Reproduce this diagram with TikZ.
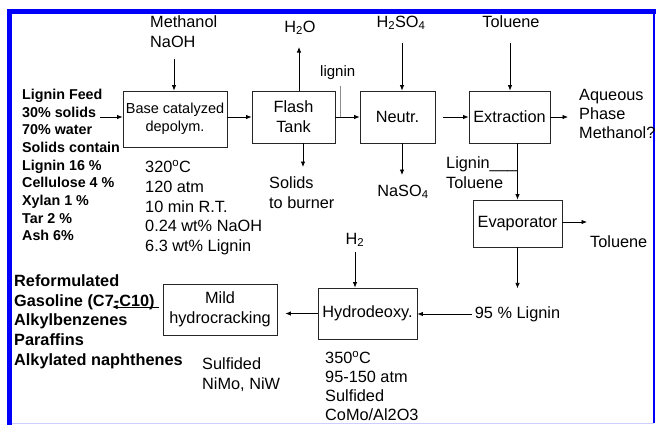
\documentclass[tikz,border=0pt]{standalone}
\usepackage{fontspec}
\setmainfont{Liberation Sans}
\usepackage{xcolor}
\usetikzlibrary{arrows.meta,calc,positioning}
\definecolor{frameblue}{RGB}{0,0,250}
\definecolor{framepale}{RGB}{205,205,255}
\newcommand\fsnorm{\fontsize{16.3bp}{19.7bp}\selectfont}
\newcommand\fsbox{\fontsize{14.5bp}{18bp}\selectfont}
\newcommand\fsfeed{\fontsize{14.3bp}{17.7bp}\selectfont\bfseries}
\newcommand\fsprod{\fontsize{16.3bp}{19.7bp}\selectfont\bfseries}
\newcommand\fstap{\fontsize{15bp}{17bp}\selectfont}

\begin{document}
\begin{tikzpicture}[x=1bp,y=-1bp,>={Latex[length=5.5bp,width=4.5bp]},
  unit/.style={draw=black!85,line width=.8bp,inner sep=0pt,align=center,font=\fsnorm},
  note/.style={inner sep=0pt,align=left,font=\fsnorm},
  flow/.style={->,line width=.8bp}]
\useasboundingbox (0,0) rectangle (656,425);
% frame
\fill[frameblue] (7,9) rectangle (656,14);
\fill[frameblue] (7,9) rectangle (12,425);
\draw[frameblue,line width=1.2bp] (654,14) -- (654,423);
\draw[framepale,line width=1.5bp] (12,423.5) -- (654,423.5);

% process units
\node[unit,minimum width=104bp,minimum height=56bp,font=\fsbox] (base) at (175,119) {Base catalyzed\\depolym.};
\node[unit,minimum width=83bp,minimum height=52bp] (flash) at (293.5,117) {Flash\\Tank};
\node[unit,minimum width=75bp,minimum height=52bp] (neutr) at (397.5,117) {Neutr.};
\node[unit,minimum width=81bp,minimum height=52bp] (extract) at (509.5,117) {Extraction};
\node[unit,minimum width=89bp,minimum height=47bp] (evap) at (517.5,223.5) {Evaporator};
\node[unit,minimum width=99bp,minimum height=51bp] (hydro) at (367.5,313.5) {Hydrodeoxy.};
\node[unit,minimum width=114bp,minimum height=51bp] (mild) at (220,309.5) {Mild\\hydrocracking};

% streams and conditions
\node[note,anchor=west,font=\fsfeed] (feed) at (22,165) {Lignin Feed\\30\% solids\\70\% water\\Solids contain\\Lignin 16 \%\\Cellulose 4 \%\\Xylan 1 \%\\Tar 2 \%\\Ash 6\%};
\node[note,anchor=west] (meoh) at (150,32) {Methanol\\NaOH};
\node[note] (water) at (300,28) {H\textsubscript{2}O};
\node[note,anchor=west,font=\fstap] (ligtap) at (320,73) {lignin};
\node[note] (acid) at (401,23) {H\textsubscript{2}SO\textsubscript{4}};
\node[note] (solv) at (511,22) {Toluene};
\node[note,anchor=west,font={\fontsize{16.3bp}{19bp}\selectfont}] (aq) at (579,114) {Aqueous\\Phase\\Methanol?};
\node[note,anchor=west] (solids) at (269,193) {Solids\\to burner};
\node[note] (salt) at (403,192) {NaSO\textsubscript{4}};
\node[note,anchor=west] (ligtol) at (446,173) {Lignin\_\_\_\\Toluene};
\node[note,anchor=west] (tolout) at (590,242) {Toluene};
\node[note,anchor=west] (basecond) at (145,207.6) {320\textsuperscript{o}C\\120 atm\\10 min R.T.\\0.24 wt\% NaOH\\6.3 wt\% Lignin};
\node[note] (htwo) at (355,240) {H\textsubscript{2}};
\node[note] (lig95) at (517.5,314) {95 \% Lignin};
\node[note,anchor=west,font={\fontsize{16.3bp}{19.2bp}\selectfont}] (hydcond) at (325,386) {350\textsuperscript{o}C\\95-150 atm\\Sulfided\\CoMo/Al2O3};
\node[note,anchor=west] (mildcond) at (202,374.5) {Sulfided\\NiMo, NiW};
\node[note,anchor=west,font=\fsprod] (prod) at (14,321.5) {Reformulated\\Gasoline (C7-C10)\\Alkylbenzenes\\Paraffins\\Alkylated naphthenes};

% free ends
\coordinate (feedin) at (100,117);
\coordinate (meohin) at (174,59);
\coordinate (steam) at (299,47);
\coordinate (residue) at (303,167);
\coordinate (tap) at (340,86);
\coordinate (acidin) at (402,43);
\coordinate (saltout) at (402,175);
\coordinate (solvin) at (510,43);
\coordinate (aqout) at (568,117);
\coordinate (tolend) at (587,222);
\coordinate (prodtip) at (112,307);

% connectors
\draw[flow] (feedin) -- (feedin -| base.west);
\draw[flow] (meohin) -- (meohin |- base.north);
\draw[flow] (flash.west -| base.east) -- (flash.west);
\draw[flow] (steam |- flash.north) -- (steam);
\draw[flow] (residue |- flash.south) -- (residue);
\draw[black!45,line width=.8bp] (tap) -- (tap |- flash.east);
\draw[flow] (flash.east) -- (neutr.west);
\draw[flow] (acidin) -- (acidin |- neutr.north);
\draw[flow] (saltout |- neutr.south) -- (saltout);
\draw[flow,shorten <=8bp] (neutr.east) -- (extract.west);
\draw[flow] (solvin) -- (solvin |- extract.north);
\draw[flow] (extract.east) -- (aqout);
\draw[flow] (evap.north |- extract.south) -- (evap.north);
\draw[flow] (evap.east |- tolend) -- (tolend);
\draw[flow] (evap.south) -- ++(0,41);
\draw[flow,shorten <=3bp] (lig95.west) -- (lig95.west -| hydro.east);
\draw[flow,shorten <=5bp] (htwo.south) -- (htwo.south |- hydro.north);
\draw[flow,shorten >=8bp] (hydro.west) -- (hydro.west -| mild.east);
\draw[flow,shorten <=4bp] (mild.west |- prodtip) -- (prodtip);
\end{tikzpicture}
\end{document}
